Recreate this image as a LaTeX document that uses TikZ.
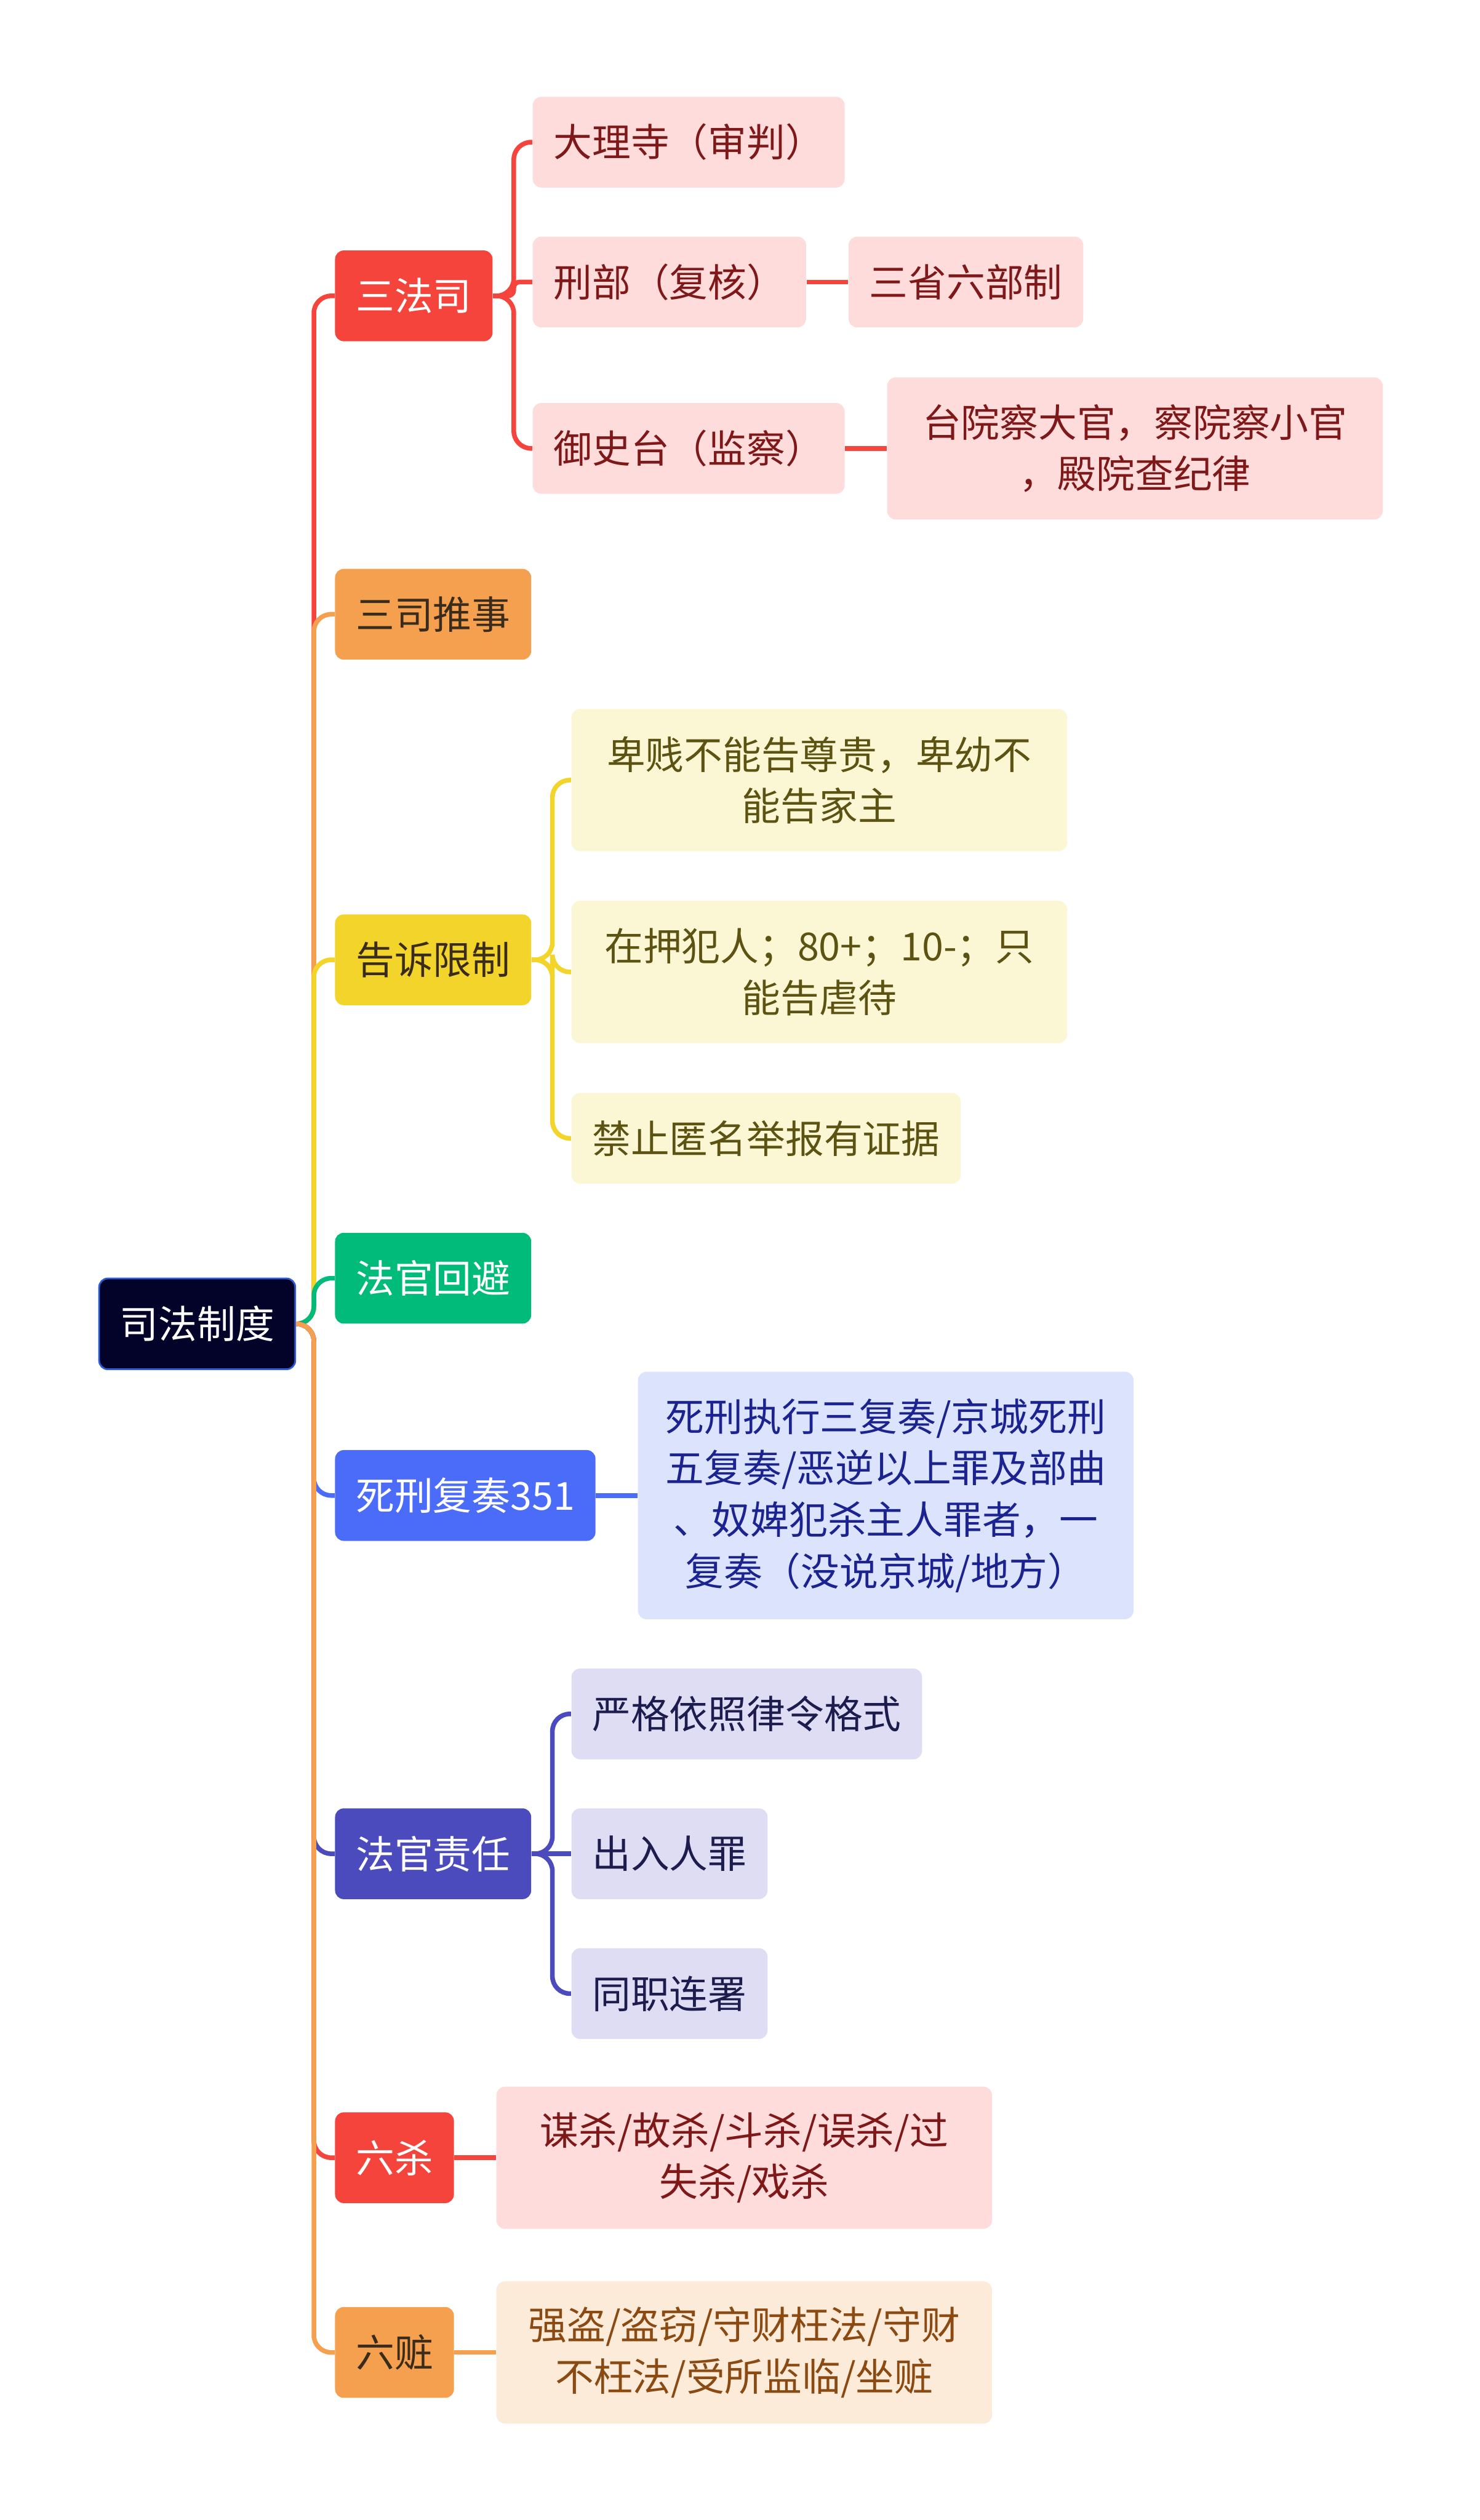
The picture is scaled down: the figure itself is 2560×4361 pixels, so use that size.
\documentclass[tikz,border=0pt]{standalone}
\usepackage{fontspec}
\setmainfont{Noto Sans CJK SC}
\usepackage{xcolor}
\usetikzlibrary{positioning}

\definecolor{rootbg}{HTML}{03032A}
\definecolor{rootline}{HTML}{2F5DD3}
\definecolor{redtone}{HTML}{F5443B}
\definecolor{pinkfill}{HTML}{FDDCDB}
\definecolor{darkred}{HTML}{7F1818}
\definecolor{orangetone}{HTML}{F5A04E}
\definecolor{peachfill}{HTML}{FDEBDA}
\definecolor{browntext}{HTML}{3A2C1C}
\definecolor{peachtext}{HTML}{8B4A12}
\definecolor{yellowtone}{HTML}{F2D42B}
\definecolor{creamfill}{HTML}{FBF6D4}
\definecolor{olivetext}{HTML}{5C5312}
\definecolor{greentone}{HTML}{00BB7A}
\definecolor{bluetone}{HTML}{4B6CF8}
\definecolor{bluefill}{HTML}{DCE3FC}
\definecolor{navytext}{HTML}{1A2390}
\definecolor{indigotone}{HTML}{4C4BBE}
\definecolor{lavfill}{HTML}{DEDDF3}
\definecolor{lavtext}{HTML}{1C1C4E}

\begin{document}
\begin{tikzpicture}[x=0.01cm, y=-0.01cm, node distance=0.72cm,
  font=\fontsize{19pt}{25.3pt}\selectfont,
  box/.style={rounded corners=0.15cm, inner xsep=0.36cm, inner ysep=0pt, minimum height=1.57cm, align=center},
  wide/.style={box, text width=7.85cm},
  twoline/.style={wide, minimum height=2.46cm},
  link/.style={line width=0.08cm, rounded corners=0.3cm}]
  \fill[white] (0,0) rectangle (2560,4361);
  % root and first level
  \node[box, fill=rootbg, draw=rootline, line width=0.03cm, text=white, anchor=west] (root) at (170,2291) {司法制度};
  \node[box, fill=redtone, text=white, anchor=west] (sanfasi) at (579,512) {三法司};
  \node[box, fill=orangetone, text=browntext, anchor=west] (tuishi) at (579,1063) {三司推事};
  \node[box, fill=yellowtone, text=browntext, anchor=west] (gaosu) at (579,1661) {告诉限制};
  \node[box, fill=greentone, text=white, anchor=west] (huibi) at (579,2212) {法官回避};
  \node[box, fill=bluetone, text=white, anchor=west] (fuzou) at (579,2588) {死刑复奏351};
  \node[box, fill=indigotone, text=white, anchor=west] (zeren) at (579,3208) {法官责任};
  \node[box, fill=redtone, text=white, anchor=west] (liusha) at (579,3734) {六杀};
  \node[box, fill=orangetone, text=browntext, anchor=west] (liuzang) at (579,4071) {六赃};
  % 三法司
  \node[box, fill=pinkfill, text=darkred, anchor=west] (dali) at (921,246) {大理寺（审判）};
  \node[box, fill=pinkfill, text=darkred, anchor=west] (xingbu) at (921,488) {刑部（复核）};
  \node[box, fill=pinkfill, text=darkred, anchor=west] (yushi) at (921,776) {御史台（监察）};
  \node[box, fill=pinkfill, text=darkred, right=of xingbu] (liubu) {三省六部制};
  \node[twoline, fill=pinkfill, text=darkred, right=of yushi] (sanyuan) {台院察大官，察院察小官\\，殿院查纪律};
  % 告诉限制
  \node[twoline, fill=creamfill, text=olivetext, anchor=west] (zunbei) at (988,1350) {卑贱不能告尊贵，卑幼不\\能告家主};
  \node[twoline, fill=creamfill, text=olivetext, anchor=west] (zaiya) at (988,1682) {在押犯人；80+；10-；只\\能告虐待};
  \node[box, fill=creamfill, text=olivetext, anchor=west] (niming) at (988,1970) {禁止匿名举报有证据};
  % 死刑复奏
  \node[wide, minimum height=4.28cm, fill=bluefill, text=navytext, right=of fuzou] (fuzoutxt) {死刑执行三复奏/京城死刑\\五复奏/恶逆以上罪及部曲\\、奴婢犯杀主人罪者，一\\复奏（没说京城/地方）};
  % 法官责任
  \node[box, fill=lavfill, text=lavtext, anchor=west] (gelv) at (988,2966) {严格依照律令格式};
  \node[box, fill=lavfill, text=lavtext, anchor=west] (churu) at (988,3208) {出入人罪};
  \node[box, fill=lavfill, text=lavtext, anchor=west] (lianshu) at (988,3450) {同职连署};
  % 六杀, 六赃
  \node[twoline, fill=pinkfill, text=darkred, right=of liusha] (shatxt) {谋杀/故杀/斗杀/误杀/过\\失杀/戏杀};
  \node[twoline, fill=peachfill, text=peachtext, right=of liuzang] (zangtxt) {强盗/盗窃/守财枉法/守财\\不枉法/受所监临/坐赃};

  \coordinate (hub) at (543,2291);
  \draw[link, redtone] (root.east) -- (hub) |- (sanfasi.west);
  \draw[link, orangetone] (root.east) -- (hub) |- (tuishi.west);
  \draw[link, yellowtone] (root.east) -- (hub) |- (gaosu.west);
  \draw[link, greentone] (root.east) -- (hub) |- (huibi.west);
  \draw[link, bluetone] (root.east) -- (hub) |- (fuzou.west);
  \draw[link, indigotone] (root.east) -- (hub) |- (zeren.west);
  \draw[link, redtone] (root.east) -- (hub) |- (liusha.west);
  \draw[link, orangetone] (root.east) -- (hub) |- (liuzang.west);

  \draw[link, redtone] (sanfasi.east) -- ++(36,0) |- (dali.west);
  \draw[link, redtone, rounded corners=0.1cm] (sanfasi.east) -- ++(36,0) |- (xingbu.west);
  \draw[link, redtone] (sanfasi.east) -- ++(36,0) |- (yushi.west);
  \draw[link, redtone] (xingbu) -- (liubu);
  \draw[link, redtone] (yushi) -- (sanyuan);
  \draw[link, yellowtone] (gaosu.east) -- ++(36,0) |- (zunbei.west);
  \draw[link, yellowtone] (gaosu.east) -- ++(36,0) |- (zaiya.west);
  \draw[link, yellowtone] (gaosu.east) -- ++(36,0) |- (niming.west);
  \draw[link, bluetone] (fuzou) -- (fuzoutxt);
  \draw[link, indigotone] (zeren.east) -- ++(36,0) |- (gelv.west);
  \draw[link, indigotone] (zeren.east) -- (churu.west);
  \draw[link, indigotone] (zeren.east) -- ++(36,0) |- (lianshu.west);
  \draw[link, redtone] (liusha) -- (shatxt);
  \draw[link, orangetone] (liuzang) -- (zangtxt);
\end{tikzpicture}
\end{document}
